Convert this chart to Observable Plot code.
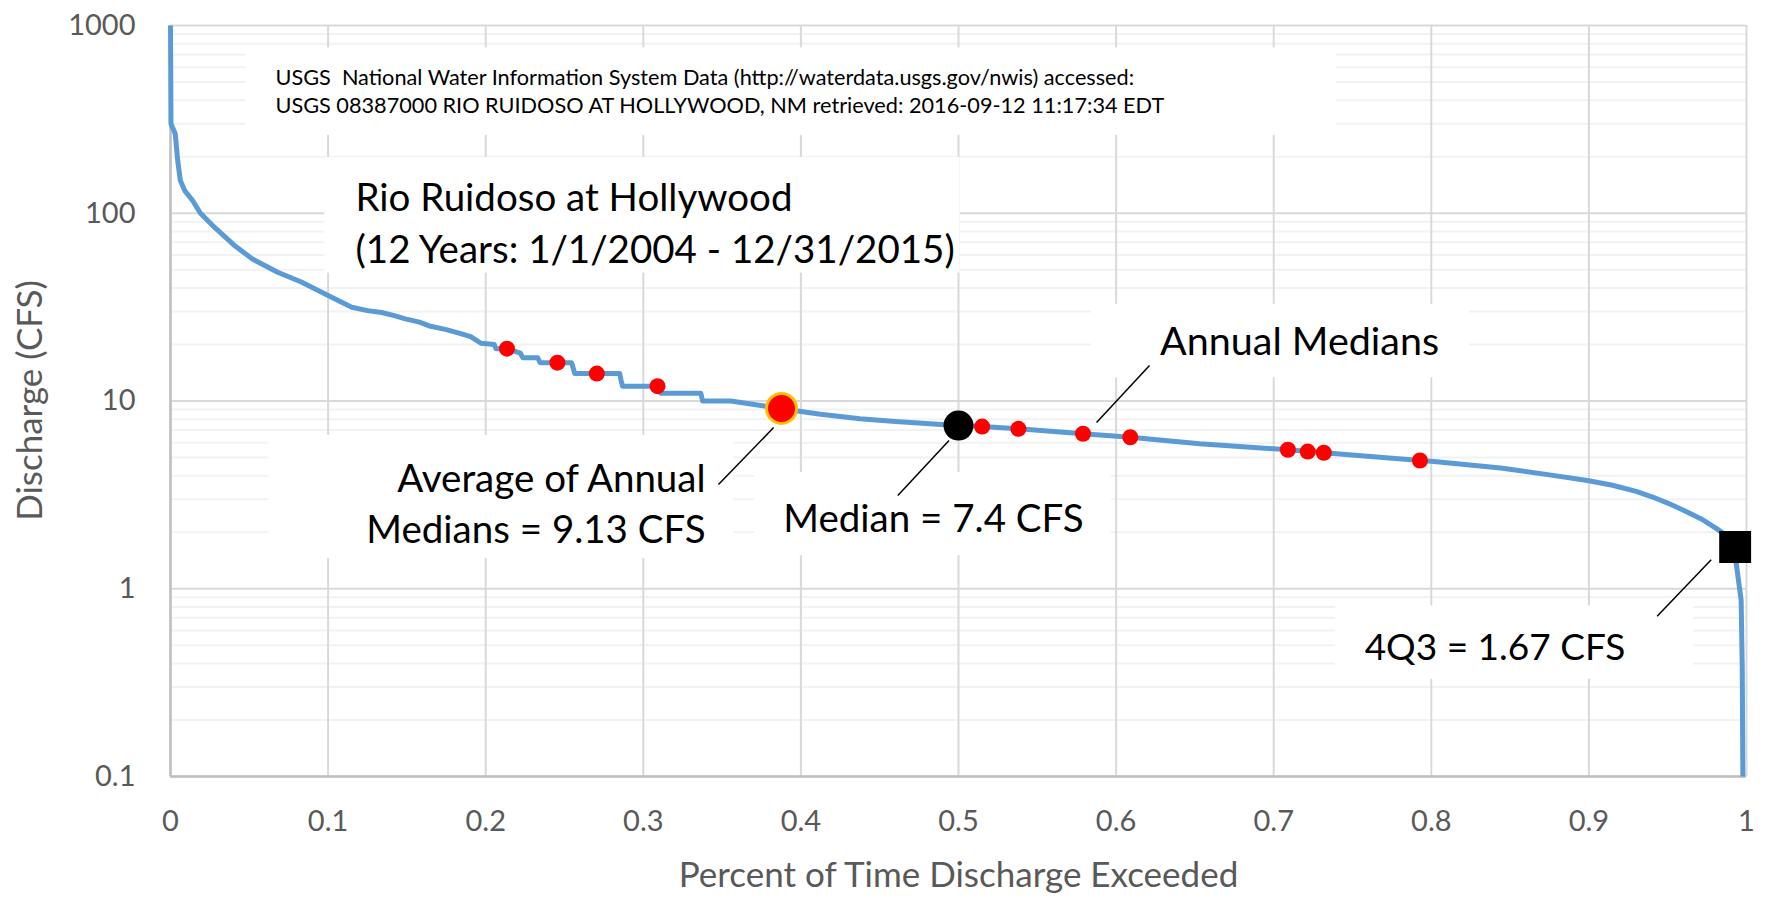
<!DOCTYPE html>
<html>
<head>
<meta charset="utf-8">
<script src="https://cdn.jsdelivr.net/npm/d3@7"></script>
<script src="https://cdn.jsdelivr.net/npm/@observablehq/plot@0.6"></script>
<style>
  html, body { margin: 0; padding: 0; background: #fff; }
  #chart svg { display: block; }
  #chart svg text { white-space: pre; }
</style>
</head>
<body>
<div id="chart"></div>
<script>
// ---- Flow duration curve (fraction of time exceeded, discharge CFS) ----
const curveX = [0, 0.0003, 0.003, 0.0046, 0.0062, 0.009, 0.014, 0.019, 0.028, 0.040, 0.052, 0.068, 0.083, 0.100, 0.115, 0.125, 0.134, 0.142, 0.149, 0.158, 0.165, 0.175, 0.183, 0.1905, 0.197, 0.2054, 0.2065, 0.2135, 0.222, 0.2235, 0.233, 0.2345, 0.2545, 0.2555, 0.2565, 0.285, 0.2858, 0.2868, 0.309, 0.311, 0.3365, 0.3376, 0.3555, 0.3767, 0.3877, 0.4125, 0.4375, 0.46, 0.489, 0.5, 0.515, 0.538, 0.579, 0.609, 0.653, 0.709, 0.722, 0.732, 0.793, 0.8, 0.844, 0.876, 0.899, 0.915, 0.93, 0.94, 0.95, 0.96, 0.971, 0.981, 0.9896, 0.9928, 0.9935, 0.9966, 0.9973, 0.9977];
const curveQ = [1000, 300, 265, 190, 150, 132, 117, 100, 84, 68, 57, 48.5, 43, 36.5, 31.6, 30.3, 29.6, 28.5, 27.4, 26.3, 25, 24, 23, 22, 20.3, 20, 19, 19, 18, 17, 17, 16, 16, 15, 14, 14, 13, 12, 12, 11, 11, 10, 10, 9.4, 9.1, 8.5, 8.05, 7.78, 7.5, 7.4, 7.31, 7.11, 6.69, 6.41, 5.92, 5.5, 5.38, 5.3, 4.82, 4.77, 4.40, 4.03, 3.77, 3.56, 3.30, 3.09, 2.86, 2.62, 2.36, 2.09, 1.86, 1.67, 1.36, 0.87, 0.38, 0.1];

// ---- Annual medians (12 years) ----
const annualX = [0.2135, 0.2455, 0.2705, 0.309, 0.515, 0.538, 0.579, 0.609, 0.709, 0.7216, 0.7318, 0.7928];
const annualQ = [19, 16, 14, 12, 7.31, 7.11, 6.69, 6.41, 5.5, 5.38, 5.3, 4.82];

// ---- Key statistics ----
const avgOfMedians = { x: 0.3877, q: 9.13 };
const overallMedian = { x: 0.5, q: 7.4 };
const q4q3 = { x: 0.9928, q: 1.67 };

// ---- Axis ticks ----
const xTicks = [0, 0.1, 0.2, 0.3, 0.4, 0.5, 0.6, 0.7, 0.8, 0.9, 1];
const yTicks = [0.1, 1, 10, 100, 1000];
const yMinor = [0.2, 0.3, 0.4, 0.5, 0.6, 0.7, 0.8, 0.9, 2, 3, 4, 5, 6, 7, 8, 9, 20, 30, 40, 50, 60, 70, 80, 90, 200, 300, 400, 500, 600, 700, 800, 900];

// ---- Annotation texts ----
const sourceText = "USGS  National Water Information System Data (http://waterdata.usgs.gov/nwis) accessed:\nUSGS 08387000 RIO RUIDOSO AT HOLLYWOOD, NM retrieved: 2016-09-12 11:17:34 EDT";
const titleText = "Rio Ruidoso at Hollywood\n(12 Years: 1/1/2004 - 12/31/2015)";
const avgText = "Average of Annual\nMedians = 9.13 CFS";
const medianText = "Median = 7.4 CFS";
const annualText = "Annual Medians";
const q4q3Text = "4Q3 = 1.67 CFS";
const xTitle = "Percent of Time Discharge Exceeded";
const yTitle = "Discharge (CFS)";

// annotation anchor points (data space)
const sourceAt = { x: 0.0666, q: 452 };
const titleAt = { x: 0.1174, q: 91.9 };
const avgAt = { x: 0.3395, q: 2.94 };
const medianAt = { x: 0.4841, q: 2.33 };
const annualAt = { x: 0.7164, q: 20.6 };
const q4q3At = { x: 0.8404, q: 0.485 };
const yTitleAt = { q: 10.06 };

// white label boxes (data space)
const boxX1 = [0.048, 0.098, 0.0622, 0.3706, 0.5844, 0.7392];
const boxX2 = [0.740, 0.501, 0.3572, 0.5971, 0.8242, 0.9664];
const boxQ1 = [260, 48, 1.45, 1.50, 13.3, 0.33];
const boxQ2 = [760, 198, 6.55, 4.16, 32.7, 0.81];

// leader lines (data space)
const leadX1 = [0.3477, 0.4615, 0.5876, 0.9433];
const leadQ1 = [3.59, 3.14, 7.69, 0.714];
const leadX2 = [0.3827, 0.494, 0.6212, 0.9776];
const leadQ2 = [7.22, 6.16, 15.45, 1.426];

// ---- build tables ----
const curve = curveX.map((x, i) => ({ x, q: curveQ[i] }));
const annual = annualX.map((x, i) => ({ x, q: annualQ[i] }));
const boxes = boxX1.map((x1, i) => ({ x1, x2: boxX2[i], q1: boxQ1[i], q2: boxQ2[i] }));
const leaders = leadX1.map((x1, i) => ({ x1, q1: leadQ1[i], x2: leadX2[i], q2: leadQ2[i] }));

const FONT = "Lato, 'Open Sans', sans-serif";
const AXIS_GREY = "#595959";

const chart = Plot.plot({
  width: 1765,
  height: 907,
  marginLeft: 170,
  marginRight: 19,
  marginTop: 25,
  marginBottom: 131,
  style: { fontFamily: FONT, background: "#fff" },
  x: { domain: [0, 1] },
  y: { type: "log", domain: [0.1, 1000] },
  marks: [
    // gridlines
    Plot.ruleY(yMinor, { stroke: "#F2F2F2", strokeWidth: 2 }),
    Plot.ruleY(yTicks, { stroke: "#D9D9D9", strokeWidth: 2 }),
    Plot.ruleX(xTicks, { stroke: "#D9D9D9", strokeWidth: 2 }),
    // axis lines
    Plot.ruleX([0], { stroke: "#BFBFBF", strokeWidth: 2.5 }),
    Plot.ruleY([0.1], { stroke: "#BFBFBF", strokeWidth: 2.5 }),
    // white label boxes
    Plot.rect(boxes, { x1: "x1", x2: "x2", y1: "q1", y2: "q2", fill: "#fff" }),
    // leader lines
    Plot.link(leaders, { x1: "x1", y1: "q1", x2: "x2", y2: "q2", stroke: "#000", strokeWidth: 1.5 }),
    // flow duration curve
    Plot.line(curve, { x: "x", y: "q", stroke: "#5B9BD5", strokeWidth: 5, strokeLinecap: "butt", strokeLinejoin: "round" }),
    // annual medians
    Plot.dot(annual, { x: "x", y: "q", r: 8, fill: "#FF0000" }),
    Plot.dot([avgOfMedians], { x: "x", y: "q", r: 15, fill: "#FF0000", stroke: "#FFC000", strokeWidth: 3 }),
    Plot.dot([overallMedian], { x: "x", y: "q", r: 15, fill: "#000" }),
    Plot.dot([q4q3], { x: "x", y: "q", r: 18, symbol: "square", fill: "#000" }),
    // axes
    Plot.axisX(xTicks, { tickSize: 0, tickPadding: 34, fontSize: 29, fill: AXIS_GREY, tickFormat: d => String(+d.toFixed(1)), label: null }),
    Plot.axisY(yTicks, { tickSize: 0, tickPadding: 35, fontSize: 29, fill: AXIS_GREY, tickFormat: d => String(d), label: null }),
    Plot.text([xTitle], { frameAnchor: "bottom", dy: 110, fontSize: 35, fill: AXIS_GREY }),
    Plot.text([yTitleAt], { y: "q", frameAnchor: "left", dx: -140, rotate: -90, textAnchor: "middle", lineAnchor: "middle", text: () => yTitle, fontSize: 35, fill: AXIS_GREY }),
    // annotations
    Plot.text([sourceAt], { x: "x", y: "q", text: () => sourceText, textAnchor: "start", fontSize: 21.7, lineHeight: 1.305, fill: "#000" }),
    Plot.text([titleAt], { x: "x", y: "q", text: () => titleText, textAnchor: "start", fontSize: 38.5, lineHeight: 1.343, fill: "#000" }),
    Plot.text([avgAt], { x: "x", y: "q", text: () => avgText, textAnchor: "end", fontSize: 38.5, lineHeight: 1.343, fill: "#000" }),
    Plot.text([medianAt], { x: "x", y: "q", text: () => medianText, textAnchor: "middle", fontSize: 38.5, fill: "#000" }),
    Plot.text([annualAt], { x: "x", y: "q", text: () => annualText, textAnchor: "middle", fontSize: 39.5, fill: "#000" }),
    Plot.text([q4q3At], { x: "x", y: "q", text: () => q4q3Text, textAnchor: "middle", fontSize: 37, fill: "#000" })
  ]
});

document.getElementById("chart").appendChild(chart);
</script>
</body>
</html>
